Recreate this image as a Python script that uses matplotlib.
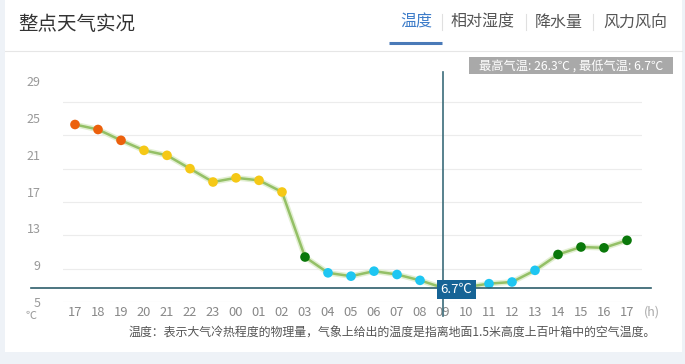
import matplotlib
matplotlib.use("Agg")
import matplotlib.pyplot as plt
from matplotlib.patches import Rectangle
from matplotlib.lines import Line2D

plt.rcParams['font.family'] = ['Noto Sans CJK SC', 'DejaVu Sans']

# ---- data ----
hours = ['17', '18', '19', '20', '21', '22', '23', '00', '01', '02', '03', '04', '05',
         '06', '07', '08', '09', '10', '11', '12', '13', '14', '15', '16', '17']
temps = [26.3, 25.7, 24.4, 23.2, 22.6, 21.0, 19.4, 19.9, 19.6, 18.2, 10.4, 8.5, 8.1,
         8.7, 8.3, 7.6, 6.7, 6.8, 7.2, 7.4, 8.8, 10.7, 11.6, 11.5, 12.4]
grid_values = [5, 9, 13, 17, 21, 25, 29]
ytick_labels = ['5', '9', '13', '17', '21', '25', '29']
max_temp = 26.3
min_temp = 6.7
min_index = 16
tabs = ['温度', '相对湿度', '降水量', '风力风向']
title = '整点天气实况'
footer = '温度：表示大气冷热程度的物理量，气象上给出的温度是指离地面1.5米高度上百叶箱中的空气温度。'

thresholds = [10, 18, 24]
level_colors = ['#1ec6f2', '#0a780a', '#f5c816', '#ec600c']


def color_for(t):
    for th, c in zip(thresholds, level_colors):
        if t < th:
            return c
    return level_colors[-1]


W, H = 685, 364
fig = plt.figure(figsize=(W / 100, H / 100), dpi=100)
fig.patch.set_facecolor('#eef2f7')


def fx(px):
    return px / W


def fy(py):
    return 1 - py / H


# white card
fig.patches.append(Rectangle((fx(5), fy(352)), fx(682) - fx(5), fy(0) - fy(352),
                             transform=fig.transFigure, facecolor='white',
                             edgecolor='none', zorder=-5))

# header
fig.text(fx(18), fy(25), title, fontsize=14, color='#333333', va='center', ha='left')
tab_x = [416, 483, 559, 635]
for i, (t, x) in enumerate(zip(tabs, tab_x)):
    fig.text(fx(x), fy(22), t, fontsize=11.5, ha='center', va='center',
             color='#3d7cc9' if i == 0 else '#555555')
for sx in [442, 526, 593]:
    fig.add_artist(Line2D([fx(sx), fx(sx)], [fy(14), fy(30)], transform=fig.transFigure,
                          color='#e0e0e0', lw=0.8))
fig.add_artist(Line2D([fx(389), fx(442)], [fy(43), fy(43)], transform=fig.transFigure,
                      color='#4a7ab8', lw=2.2, solid_capstyle='butt'))
fig.add_artist(Line2D([fx(5), fx(682)], [fy(51), fy(51)], transform=fig.transFigure,
                      color='#e6e6e6', lw=0.8))

# axes: x index i at px 75+23i ; y 5 at px 302, 29 at px 102
px_per_deg = (302 - 102) / 24.0
ax_left, ax_right, ax_top, ax_bot = 63, 642, 60, 302
ax = fig.add_axes([fx(ax_left), fy(ax_bot), fx(ax_right) - fx(ax_left), fy(ax_top) - fy(ax_bot)])
ax.set_zorder(1)
ax.patch.set_visible(False)
ax.set_xlim((ax_left - 75) / 23, (ax_right - 75) / 23)
ax.set_ylim(5, 5 + (302 - ax_top) / px_per_deg)
for s in ax.spines.values():
    s.set_visible(False)

for g in grid_values:
    ax.axhline(g, color='#ececec', lw=0.8, zorder=1)

x = list(range(len(hours)))
ax.set_xticks(x)
ax.set_xticklabels(hours, fontsize=9.3, color='#888888')
ax.tick_params(axis='x', length=0, pad=3)
# y labels sit on a slightly wider spacing than the grid in the original
ypos = [5 + i * 4.42 for i in range(len(ytick_labels))]
ax.set_yticks(ypos)
ax.set_yticklabels(ytick_labels, fontsize=9, color='#999999')
ax.tick_params(axis='y', length=0, pad=16)

# line + markers
ax.plot(x, temps, color='#e2efd2', lw=4, zorder=2, solid_capstyle='round')
ax.plot(x, temps, color='#94c066', lw=1.8, zorder=3)
ax.scatter(x, temps, s=48, c=[color_for(t) for t in temps], zorder=4, edgecolors='none')

# cursor lines
ax.plot([(31 - 75) / 23, (651 - 75) / 23], [min_temp, min_temp], color='#2d5d6b', lw=1.2,
        clip_on=False, zorder=5)
ax.plot([min_index, min_index], [5 - (316 - 302) / px_per_deg, 5 + (302 - 72) / px_per_deg],
        color='#3b6c7a', lw=1.2, clip_on=False, zorder=5)

# min label box
ax.text(min_index + 0.59, min_temp - 0.2, f'{min_temp}℃', fontsize=9.5, color='white',
        ha='center', va='center', zorder=6,
        bbox=dict(boxstyle='square,pad=0.25', facecolor='#166496', edgecolor='none'))

# max/min box top-right
fig.patches.append(Rectangle((fx(469), fy(74)), fx(673) - fx(469), fy(57) - fy(74),
                             transform=fig.transFigure, facecolor='#a9a9a9',
                             edgecolor='none', zorder=2))
fig.text(fx(571), fy(66), f'最高气温: {max_temp}℃ , 最低气温: {min_temp}℃', fontsize=8.8,
         color='white', ha='center', va='center', zorder=3)

# unit labels
fig.text(fx(31), fy(316), '℃', fontsize=8, color='#999999', ha='center', va='center')
fig.text(fx(652), fy(312), '(h)', fontsize=9, color='#aaaaaa', ha='center', va='center')

# footer
fig.text(fx(392), fy(333), footer, fontsize=8.6, color='#555555', ha='center', va='center')

fig.savefig('out.png', dpi=100, facecolor=fig.get_facecolor())
